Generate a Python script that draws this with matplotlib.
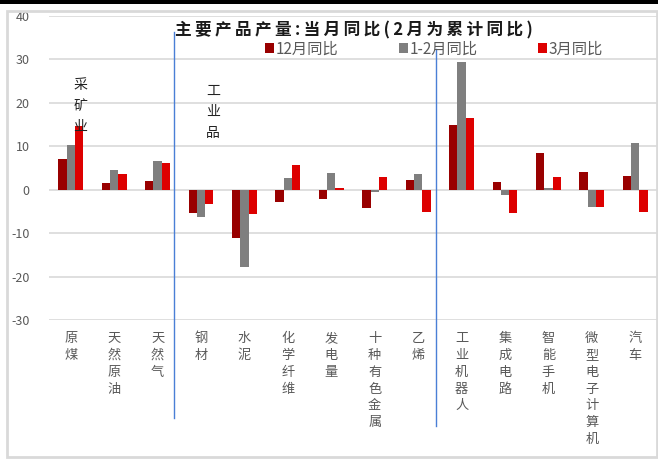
import numpy as np
import matplotlib
matplotlib.use("Agg")
import matplotlib.pyplot as plt
from matplotlib.patches import Rectangle
from matplotlib.lines import Line2D

plt.rcParams['font.family'] = ['Noto Sans CJK SC', 'DejaVu Sans']
plt.rcParams['axes.unicode_minus'] = False

# 数据
categories = ['原煤', '天然原油', '天然气', '钢材', '水泥', '化学纤维', '发电量',
              '十种有色金属', '乙烯', '工业机器人', '集成电路', '智能手机',
              '微型电子计算机', '汽车']
dec_yoy = [7.1, 1.5, 2.1, -5.3, -11.1, -2.8, -2.2, -4.1, 2.3, 15.0, 1.7, 8.5, 4.1, 3.2]
janfeb_yoy = [10.2, 4.5, 6.5, -6.2, -17.9, 2.8, 3.8, -0.6, 3.6, 29.5, -1.3, 0.5, -3.9, 10.8]
mar_yoy = [14.7, 3.6, 6.1, -3.3, -5.7, 5.7, 0.3, 3.0, -5.1, 16.6, -5.3, 3.0, -3.9, -5.1]
series_names = ['12月同比', '1-2月同比', '3月同比']
colors = ['#990000', '#7f7f7f', '#dd0000']
yticks = [-30, -20, -10, 0, 10, 20, 30, 40]
title = '主要产品产量:当月同比(2月为累计同比)'

fig = plt.figure(figsize=(6.58, 4.59), dpi=100)
W, H = 658, 459

# 外框
fig.patches.append(Rectangle((0, 1 - 4 / H), 1, 4 / H, transform=fig.transFigure,
                             facecolor='black', edgecolor='none'))
fig.patches.append(Rectangle((7 / W, 2 / H), 650 / W, 446 / H, transform=fig.transFigure,
                             facecolor='none', edgecolor='#d9d9d9', linewidth=2))

ax = fig.add_axes([49 / W, (H - 320) / H, 608 / W, 304 / H])
x = np.arange(len(categories))
w = 0.19
for i, (vals, name, c) in enumerate(zip([dec_yoy, janfeb_yoy, mar_yoy], series_names, colors)):
    ax.bar(x + (i - 1) * w, vals, width=w, color=c, label=name, zorder=3)

ax.set_xlim(-0.5, len(categories) - 0.5)
ax.set_ylim(-30, 40)
ax.set_yticks(yticks)
ax.yaxis.grid(True, color='#d9d9d9', linewidth=1.2, zorder=0)
ax.tick_params(axis='y', length=0, labelsize=9, labelcolor='#595959', pad=14)
ax.set_xticks([])
for s in ax.spines.values():
    s.set_visible(False)

# 竖排类别标签
for xi, cat in zip(x, categories):
    ax.text(xi, -32.8, '\n'.join(cat), ha='center', va='top', fontsize=9.5,
            color='#595959', linespacing=1.38, clip_on=False)

# 分隔线
for xd, y0, y1 in [(2.38, 36.4, -52.6), (8.42, 32.3, -54.4)]:
    ax.add_line(Line2D([xd, xd], [y0, y1], color='#4a7fd6', linewidth=1, clip_on=False, zorder=4))

# 分组标注
ax.text(0.22, 25.8, '采\n矿\n业', ha='center', va='top', fontsize=10, color='#222222', linespacing=1.65)
ax.text(3.28, 24.4, '工\n业\n品', ha='center', va='top', fontsize=10, color='#222222', linespacing=1.65)

fig.text(354 / W, 1 - 30 / H, '\u2009'.join(title), ha='center', va='center',
         fontsize=12, fontweight='bold', color='#1a1a1a')

ax.legend(loc='center left', bbox_to_anchor=((265 - 49) / 608, (320 - 49) / 304), ncol=3, frameon=False,
          fontsize=11, labelcolor='#595959', handlelength=0.6, handleheight=0.6,
          handletextpad=0.1, columnspacing=3.95, borderaxespad=0, borderpad=0)

fig.savefig('out.png', dpi=100)
